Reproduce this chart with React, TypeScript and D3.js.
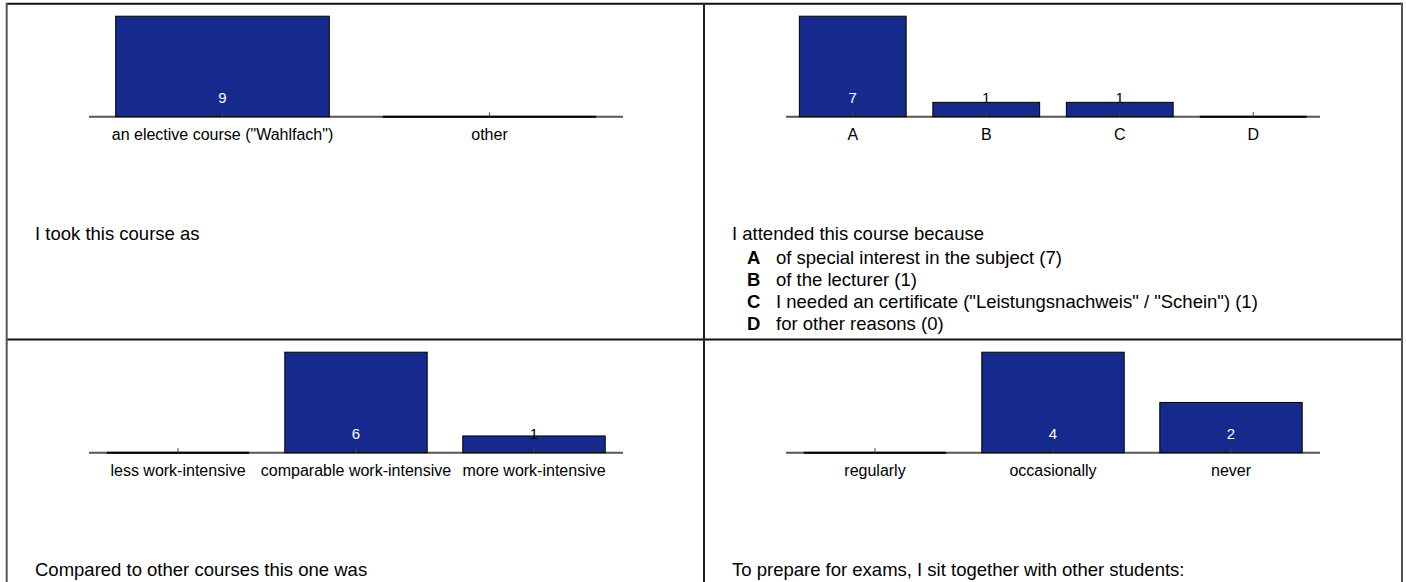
import React, { useEffect, useRef } from 'react';
import * as d3 from 'd3';

const q1Categories = ['an elective course ("Wahlfach")', 'other'];
const q1Values = [9, 0];
const q1Title = 'I took this course as';

const q2Categories = ['A', 'B', 'C', 'D'];
const q2Values = [7, 1, 1, 0];
const q2Title = 'I attended this course because';
const q2Legend = [
  'of special interest in the subject (7)',
  'of the lecturer (1)',
  'I needed an certificate ("Leistungsnachweis" / "Schein") (1)',
  'for other reasons (0)',
];

const q3Categories = ['less work-intensive', 'comparable work-intensive', 'more work-intensive'];
const q3Values = [0, 6, 1];
const q3Title = 'Compared to other courses this one was';

const q4Categories = ['regularly', 'occasionally', 'never'];
const q4Values = [0, 4, 2];
const q4Title = 'To prepare for exams, I sit together with other students:';

const FONT = '"Liberation Sans", Arial, Helvetica, sans-serif';
const BAR_FILL = '#16298c';
const W = 1406;
const H = 582;

const App = () => {
  const svgRef = useRef(null);

  useEffect(() => {
    const svg = d3.select(svgRef.current);
    svg.selectAll('*').remove();

    // table cell origins
    const colX = [7, 704];
    const rowY = [3.7, 339.7];

    const panels = [
      { cats: q1Categories, vals: q1Values, title: q1Title, legend: null, col: 0, row: 0 },
      { cats: q2Categories, vals: q2Values, title: q2Title, legend: q2Legend, col: 1, row: 0 },
      { cats: q3Categories, vals: q3Values, title: q3Title, legend: null, col: 0, row: 1 },
      { cats: q4Categories, vals: q4Values, title: q4Title, legend: null, col: 1, row: 1 },
    ];

    panels.forEach((p) => {
      const cx = colX[p.col];
      const cy = rowY[p.row];
      const baseline = cy + 113;
      const g = svg.append('g');

      const x = d3.scaleBand<string>()
        .domain(p.cats)
        .range([cx + 82, cx + 616])
        .paddingInner(0.2)
        .paddingOuter(0.1);
      const y = d3.scaleLinear()
        .domain([0, d3.max(p.vals) as number])
        .range([baseline, baseline - 100.5]);

      // axis line
      g.append('line')
        .attr('x1', cx + 82).attr('x2', cx + 616)
        .attr('y1', baseline).attr('y2', baseline)
        .attr('stroke', '#555').attr('stroke-width', 2);

      const data = p.cats.map((c, i) => ({ cat: c, val: p.vals[i] }));

      // bars
      g.selectAll('.bar')
        .data(data.filter(d => d.val > 0))
        .enter().append('rect')
        .attr('class', 'bar')
        .attr('x', d => x(d.cat) as number)
        .attr('y', d => y(d.val))
        .attr('width', x.bandwidth())
        .attr('height', d => baseline - y(d.val))
        .attr('fill', BAR_FILL)
        .attr('stroke', '#000')
        .attr('stroke-width', 1);

      // empty bars show up as a dark line on the axis
      g.selectAll('.zero')
        .data(data.filter(d => d.val === 0))
        .enter().append('line')
        .attr('class', 'zero')
        .attr('x1', d => x(d.cat) as number)
        .attr('x2', d => (x(d.cat) as number) + x.bandwidth())
        .attr('y1', baseline)
        .attr('y2', baseline)
        .attr('stroke', '#000')
        .attr('stroke-width', 2);

      // ticks
      g.selectAll('.tick')
        .data(p.cats)
        .enter().append('line')
        .attr('class', 'tick')
        .attr('x1', d => (x(d) as number) + x.bandwidth() / 2)
        .attr('x2', d => (x(d) as number) + x.bandwidth() / 2)
        .attr('y1', baseline)
        .attr('y2', baseline - 4.5)
        .attr('stroke', '#444')
        .attr('stroke-width', 1);

      // value labels
      g.selectAll('.val')
        .data(data.filter(d => d.val > 0))
        .enter().append('text')
        .attr('class', 'val')
        .attr('x', d => (x(d.cat) as number) + x.bandwidth() / 2)
        .attr('y', baseline - 14)
        .attr('text-anchor', 'middle')
        .attr('font-family', FONT)
        .attr('font-size', 15)
        .attr('fill', d => (baseline - y(d.val) > 20 ? '#fff' : '#000'))
        .text(d => d.val);

      // category labels
      g.selectAll('.cat')
        .data(p.cats)
        .enter().append('text')
        .attr('class', 'cat')
        .attr('x', d => (x(d) as number) + x.bandwidth() / 2)
        .attr('y', baseline + 23.5)
        .attr('text-anchor', 'middle')
        .attr('font-family', FONT)
        .attr('font-size', 16)
        .attr('fill', '#000')
        .text(d => d);

      // question title
      g.append('text')
        .attr('x', cx + 28)
        .attr('y', cy + 236.5)
        .attr('font-family', FONT)
        .attr('font-size', 18.5)
        .attr('fill', '#000')
        .text(p.title);

      if (p.legend) {
        p.legend.forEach((t, i) => {
          const ly = cy + 259.8 + i * 22;
          g.append('text')
            .attr('x', cx + 43)
            .attr('y', ly)
            .attr('font-family', FONT)
            .attr('font-size', 18.5)
            .attr('font-weight', 'bold')
            .text(p.cats[i]);
          g.append('text')
            .attr('x', cx + 72)
            .attr('y', ly)
            .attr('font-family', FONT)
            .attr('font-size', 18.5)
            .text(t);
        });
      }
    });

    // table borders
    const border = svg.append('g');
    border.append('line').attr('x1', 6).attr('x2', 1403).attr('y1', 3.7).attr('y2', 3.7)
      .attr('stroke', '#111').attr('stroke-width', 2);
    border.append('line').attr('x1', 6).attr('x2', 1403).attr('y1', 339.5).attr('y2', 339.5)
      .attr('stroke', '#111').attr('stroke-width', 2);
    border.append('line').attr('x1', 6.7).attr('x2', 6.7).attr('y1', 3).attr('y2', H)
      .attr('stroke', '#555').attr('stroke-width', 2);
    border.append('line').attr('x1', 704).attr('x2', 704).attr('y1', 3).attr('y2', H)
      .attr('stroke', '#222').attr('stroke-width', 2);
    border.append('line').attr('x1', 1402).attr('x2', 1402).attr('y1', 3).attr('y2', H)
      .attr('stroke', '#555').attr('stroke-width', 2);
  }, []);

  return (
    <svg
      ref={svgRef}
      width={W}
      height={H}
      style={{ position: 'absolute', left: 0, top: 0, background: '#fff' }}
    />
  );
};

export default App;
